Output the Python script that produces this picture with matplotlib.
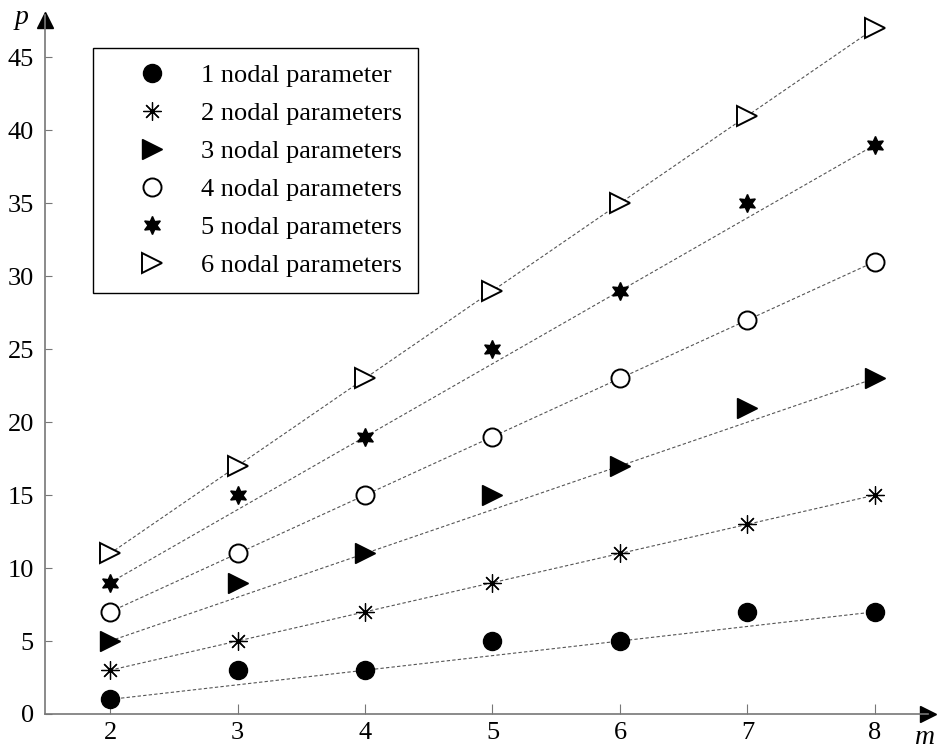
import numpy as np
import matplotlib.pyplot as plt

plt.rcParams['font.family'] = ['Liberation Serif', 'DejaVu Serif']

# m values and p values for each number of nodal parameters
m = [2, 3, 4, 5, 6, 7, 8]
p1 = [1, 3, 3, 5, 5, 7, 7]
p2 = [3, 5, 7, 9, 11, 13, 15]
p3 = [5, 9, 11, 15, 17, 21, 23]
p4 = [7, 11, 15, 19, 23, 27, 31]
p5 = [9, 15, 19, 25, 29, 35, 39]
p6 = [11, 17, 23, 29, 35, 41, 47]

# dashed trend lines (end points)
line_m = [2, 8]
line1 = [1, 7]
line2 = [3, 15]
line3 = [5, 23]
line4 = [7, 31]
line5 = [9, 39]
line6 = [11, 47]

labels = ['1 nodal parameter', '2 nodal parameters', '3 nodal parameters',
          '4 nodal parameters', '5 nodal parameters', '6 nodal parameters']

fig = plt.figure(figsize=(9.41, 7.5), dpi=100)
ax = fig.add_axes([45/941, 36/750, 883/941, 699/750])

for ln in [line1, line2, line3, line4, line5, line6]:
    ax.plot(line_m, ln, color='#555555', lw=0.8, dashes=(3, 2), zorder=1)

ax.plot(m, p1, 'o', ms=13, color='black', label=labels[0], zorder=3)
ax.plot(m, p2, marker=(8, 2, 0), ls='none', ms=13, mec='black', mew=0.9,
        label=labels[1], zorder=3)
ax.plot(m, p3, '>', ms=14, color='black', label=labels[2], zorder=3)
ax.plot(m, p4, 'o', ms=13, mfc='white', mec='black', mew=1.4, label=labels[3], zorder=3)
ax.plot(m, p5, marker=(6, 1, 0), ls='none', ms=13, color='black', label=labels[4], zorder=3)
ax.plot(m, p6, '>', ms=14, mfc='white', mec='black', mew=1.4, label=labels[5], zorder=3)

ax.set_xlim(1.49, 8.416)
ax.set_ylim(0, 47.9)
ax.set_xticks(m)
ax.set_yticks(range(0, 50, 5))

for s in ['top', 'right']:
    ax.spines[s].set_visible(False)
for s in ['left', 'bottom']:
    ax.spines[s].set_color('#777777')
    ax.spines[s].set_linewidth(1.2)

ax.tick_params(axis='x', direction='in', length=7, color='#777777', labelsize=19, pad=6)
ax.tick_params(axis='y', direction='in', length=5, color='#777777', labelsize=19, pad=8)

# arrow heads on the axes
ax.plot(1, 0, '>', ms=12, color='black', transform=ax.transAxes, clip_on=False)
ax.plot(0, 0.993, '^', ms=12, color='black', transform=ax.transAxes, clip_on=False)
fig.text(22/941, 1 - 18/750, 'p', style='italic', fontsize=20, ha='center', va='center')
fig.text(925/941, 1 - 738/750, 'm', style='italic', fontsize=20, ha='center', va='center')

leg = ax.legend(loc='upper left', bbox_to_anchor=(48/883, 1 - 33/699), fontsize=19,
                frameon=True, fancybox=False, edgecolor='black', framealpha=1,
                handlelength=3.3, handletextpad=0.2, borderpad=0.6,
                labelspacing=0.55, borderaxespad=0, numpoints=1)
leg.get_frame().set_linewidth(1.0)

plt.savefig('out.png', dpi=100)
